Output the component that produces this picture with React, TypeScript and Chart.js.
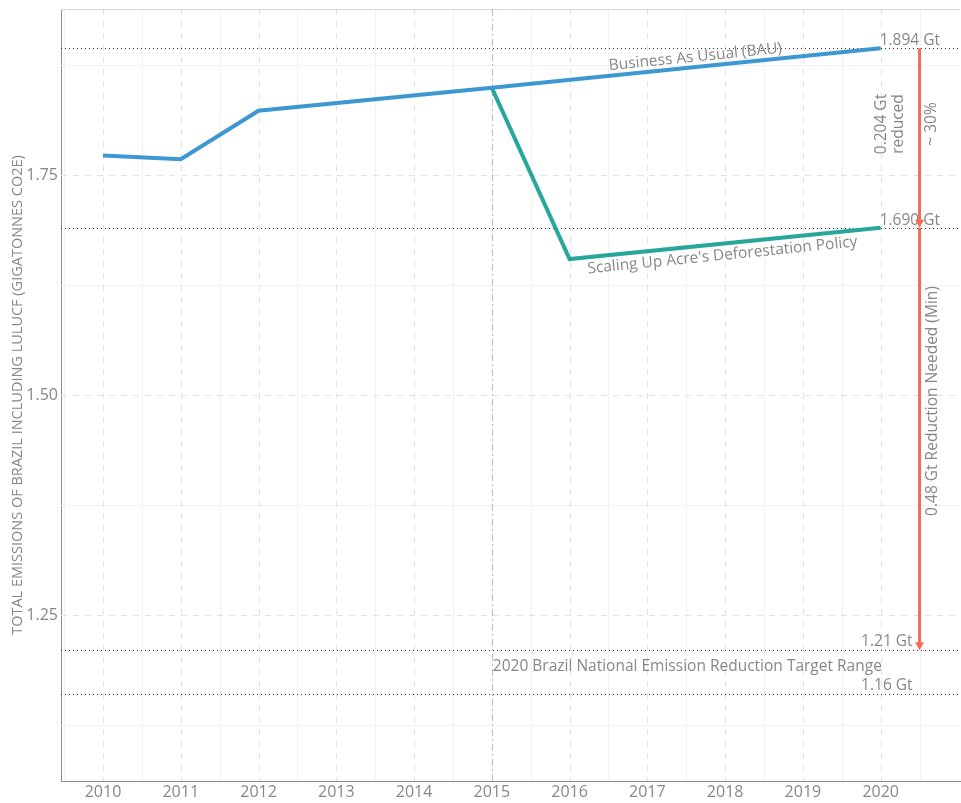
import React, { useEffect, useRef } from 'react';
import { Chart, registerables } from 'chart.js';

Chart.register(...registerables);

// ---- data ----
const bauYears = [2010, 2011, 2012, 2015, 2020];
const bauValues = [1.772, 1.768, 1.823, 1.849, 1.894];
const policyYears = [2015, 2016, 2020];
const policyValues = [1.849, 1.6545, 1.69];
const xTickYears = [2010, 2011, 2012, 2013, 2014, 2015, 2016, 2017, 2018, 2019, 2020];
const yTickValues = [1.25, 1.5, 1.75];
const refValues = [1.894, 1.69, 1.21, 1.16];
const refLabels = ['1.894 Gt', '1.690 Gt', '1.21 Gt', '1.16 Gt'];
const policyStartYear = 2015;
const arrowYear = 2020.5;
const seriesNames = ['Business As Usual (BAU)', "Scaling Up Acre's Deforestation Policy"];
const targetLabel = '2020 Brazil National Emission Reduction Target Range';
const reducedLabel = ['0.204 Gt', 'reduced'];
const percentLabel = '~ 30%';
const neededLabel = '0.48 Gt Reduction Needed (Min)';
const yTitle = 'TOTAL EMISSIONS OF BRAZIL INCLUDING LULUCF (GIGATONNES CO2E)';

const X_MIN = 2009.46;
const X_MAX = 2021.02;
const Y_MIN = 1.0614;
const Y_MAX = 1.9386;

const FONT = "'Open Sans', sans-serif";
const TEXT = '#878787';
const BLUE = '#3c97d3';
const TEAL = '#27a69a';
const RED = '#ef6e58';
const ANN = 15.5;

const decor = {
  id: 'decor',
  beforeDatasetsDraw(chart: any) {
    const { ctx, chartArea: a, scales } = chart;
    const x = scales.x;
    const y = scales.y;
    const ln = (x1: number, y1: number, x2: number, y2: number) => {
      ctx.beginPath();
      ctx.moveTo(x1, y1);
      ctx.lineTo(x2, y2);
      ctx.stroke();
    };
    ctx.save();
    // minor grid
    ctx.lineWidth = 1;
    ctx.strokeStyle = '#f1f1f1';
    ctx.setLineDash([]);
    for (const yr of xTickYears) {
      for (const v of [yr - 0.5, yr + 0.5]) {
        if (v < X_MIN || v > X_MAX) continue;
        const px = Math.round(x.getPixelForValue(v)) + 0.5;
        ln(px, a.top, px, a.bottom);
      }
    }
    const step = yTickValues[1] - yTickValues[0];
    const minorY = [yTickValues[0] - step / 2, ...yTickValues.map((t) => t + step / 2)];
    for (const v of minorY) {
      if (v < Y_MIN || v > Y_MAX) continue;
      const py = Math.round(y.getPixelForValue(v)) + 0.5;
      ln(a.left, py, a.right, py);
    }
    // major grid dashed
    ctx.strokeStyle = '#e2e2e2';
    ctx.setLineDash([6, 6]);
    for (const yr of xTickYears) {
      if (yr === policyStartYear) continue;
      const px = Math.round(x.getPixelForValue(yr)) + 0.5;
      ln(px, a.top, px, a.bottom);
    }
    for (const v of yTickValues) {
      const py = Math.round(y.getPixelForValue(v)) + 0.5;
      ln(a.left, py, a.right, py);
    }
    // top light border
    ctx.setLineDash([]);
    ctx.strokeStyle = '#d9d9d9';
    ln(a.left, a.top + 0.5, a.right, a.top + 0.5);
    // policy start vertical line
    ctx.strokeStyle = '#bdbdbd';
    ctx.setLineDash([7, 3, 2, 3]);
    const p15 = Math.round(x.getPixelForValue(policyStartYear)) + 0.5;
    ln(p15, a.top, p15, a.bottom);
    // dotted reference lines
    ctx.strokeStyle = '#333333';
    ctx.setLineDash([1, 3]);
    for (const v of refValues) {
      const py = Math.round(y.getPixelForValue(v)) + 0.5;
      ln(a.left, py, a.right, py);
    }
    ctx.restore();
  },
  afterDatasetsDraw(chart: any) {
    const { ctx, scales } = chart;
    const x = scales.x;
    const y = scales.y;
    ctx.save();
    ctx.fillStyle = TEXT;
    ctx.font = `${ANN}px ${FONT}`;

    // reference labels
    const x2020 = x.getPixelForValue(2020);
    ctx.textAlign = 'left';
    ctx.textBaseline = 'alphabetic';
    ctx.fillText(refLabels[0], x2020 - 1, y.getPixelForValue(refValues[0]) - 3);
    ctx.fillText(refLabels[1], x2020 - 1, y.getPixelForValue(refValues[1]) - 3);
    ctx.textAlign = 'right';
    const xArrow = x.getPixelForValue(arrowYear);
    ctx.fillText(refLabels[2], xArrow - 7, y.getPixelForValue(refValues[2]) - 4);
    ctx.fillText(refLabels[3], xArrow - 7, y.getPixelForValue(refValues[3]) - 4);

    // target range label
    ctx.textAlign = 'left';
    ctx.textBaseline = 'middle';
    const midTarget = (refValues[2] + refValues[3]) / 2;
    ctx.fillText(targetLabel, x.getPixelForValue(policyStartYear) + 1, y.getPixelForValue(midTarget) - 6);

    // rotated series labels
    const drawAlong = (text: string, xs: number[], vs: number[], i0: number, i1: number, atYear: number, off: number, base: string) => {
      const x0 = x.getPixelForValue(xs[i0]);
      const y0 = y.getPixelForValue(vs[i0]);
      const x1 = x.getPixelForValue(xs[i1]);
      const y1 = y.getPixelForValue(vs[i1]);
      const ang = Math.atan2(y1 - y0, x1 - x0);
      const px = x.getPixelForValue(atYear);
      const py = y0 + ((px - x0) / (x1 - x0)) * (y1 - y0);
      ctx.save();
      ctx.translate(px, py);
      ctx.rotate(ang);
      ctx.textAlign = 'center';
      ctx.textBaseline = base;
      ctx.fillText(text, 0, off);
      ctx.restore();
    };
    drawAlong(seriesNames[0], bauYears, bauValues, 2, 4, 2017.63, -2, 'bottom');
    drawAlong(seriesNames[1], policyYears, policyValues, 1, 2, 2017.95, 4, 'top');

    // vertical texts
    const vText = (text: string, cx: number, cy: number) => {
      ctx.save();
      ctx.translate(cx, cy);
      ctx.rotate(-Math.PI / 2);
      ctx.textAlign = 'center';
      ctx.textBaseline = 'middle';
      ctx.fillText(text, 0, 0);
      ctx.restore();
    };
    const yTop = y.getPixelForValue(refValues[0]);
    const yMid = y.getPixelForValue(refValues[1]);
    const yLow = y.getPixelForValue(refValues[2]);
    const cUpper = (yTop + yMid) / 2 - 14;
    vText(reducedLabel[0], xArrow - 38, cUpper);
    vText(reducedLabel[1], xArrow - 21, cUpper);
    vText(percentLabel, xArrow + 12, cUpper);
    vText(neededLabel, xArrow + 13, (yMid + yLow) / 2 - 38);

    // arrows
    const arrow = (ya: number, yb: number) => {
      ctx.strokeStyle = RED;
      ctx.fillStyle = RED;
      ctx.lineWidth = 3;
      ctx.setLineDash([]);
      ctx.beginPath();
      ctx.moveTo(xArrow, ya);
      ctx.lineTo(xArrow, yb - 5);
      ctx.stroke();
      ctx.beginPath();
      ctx.moveTo(xArrow - 4.5, yb - 8);
      ctx.lineTo(xArrow + 4.5, yb - 8);
      ctx.lineTo(xArrow, yb);
      ctx.closePath();
      ctx.fill();
    };
    arrow(yTop, yMid);
    arrow(yMid, yLow);
    ctx.restore();
  },
};

export default function App() {
  const ref = useRef<HTMLCanvasElement | null>(null);
  useEffect(() => {
    if (!ref.current) return;
    Chart.defaults.font.family = FONT;
    const chart = new Chart(ref.current, {
      type: 'line',
      data: {
        datasets: [
          {
            label: seriesNames[0],
            data: bauYears.map((yr, i) => ({ x: yr, y: bauValues[i] })),
            borderColor: BLUE,
            borderWidth: 4,
            pointRadius: 0,
            tension: 0,
            fill: false,
          },
          {
            label: seriesNames[1],
            data: policyYears.map((yr, i) => ({ x: yr, y: policyValues[i] })),
            borderColor: TEAL,
            borderWidth: 4,
            pointRadius: 0,
            tension: 0,
            fill: false,
          },
        ],
      },
      options: {
        animation: false,
        responsive: false,
        events: [],
        layout: { padding: { top: 9, right: 1, left: 0, bottom: 0 } },
        plugins: { legend: { display: false }, tooltip: { enabled: false } },
        scales: {
          x: {
            type: 'linear',
            min: X_MIN,
            max: X_MAX,
            afterBuildTicks: (s: any) => {
              s.ticks = xTickYears.map((v) => ({ value: v }));
            },
            afterFit: (s: any) => {
              s.height = 22;
              s.paddingLeft = 0;
              s.paddingRight = 0;
            },
            grid: { display: false, drawTicks: false },
            border: { display: true, color: '#8c8c8c', width: 1 },
            ticks: {
              color: TEXT,
              font: { size: 16, family: FONT },
              padding: 2,
              maxRotation: 0,
              autoSkip: false,
              callback: (v: any) => String(v),
            },
          },
          y: {
            type: 'linear',
            min: Y_MIN,
            max: Y_MAX,
            afterBuildTicks: (s: any) => {
              s.ticks = yTickValues.map((v) => ({ value: v }));
            },
            afterFit: (s: any) => {
              s.width = 61;
              s.paddingTop = 0;
              s.paddingBottom = 0;
            },
            grid: { display: false, drawTicks: false },
            border: { display: true, color: '#8c8c8c', width: 1 },
            title: {
              display: true,
              text: yTitle,
              color: TEXT,
              font: { size: 14.5, family: FONT },
              padding: { top: 9, bottom: 0 },
            },
            ticks: {
              color: TEXT,
              font: { size: 16, family: FONT },
              padding: 3,
              callback: (v: any) => Number(v).toFixed(2),
            },
          },
        },
      },
      plugins: [decor],
    });
    return () => chart.destroy();
  }, []);
  return (
    <div style={{ position: 'absolute', left: 0, top: 0, width: 961, height: 803, background: '#fff' }}>
      <canvas ref={ref} width={961} height={803} />
    </div>
  );
}
